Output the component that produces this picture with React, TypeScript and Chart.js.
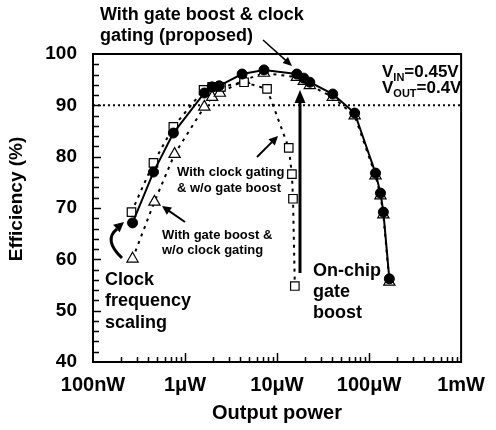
import React, { useEffect, useRef } from 'react';
import { Chart, registerables } from 'chart.js';

Chart.register(...registerables);

// Output power in µW, efficiency in %
const proposedPower = [0.269, 0.454, 0.747, 1.62, 1.97, 2.35, 4.17, 7.21, 16.4, 19.5, 22.7, 40.3, 69.7, 117.5, 133, 143, 166];
const proposedEff = [67.1, 77.0, 84.6, 92.4, 93.6, 93.8, 96.1, 96.9, 96.1, 95.3, 94.5, 92.2, 88.5, 76.8, 72.9, 69.2, 56.2];

const clockGatingPower = [0.262, 0.454, 0.747, 1.59, 1.97, 2.46, 4.38, 7.78, 13.4, 14.5, 14.9, 15.6];
const clockGatingEff = [69.2, 78.8, 85.8, 93.0, 93.6, 93.6, 94.5, 93.2, 81.7, 76.6, 71.8, 54.8];

const gateBoostPower = [0.269, 0.465, 0.77, 1.62, 1.97, 2.39, 4.38, 7.2, 16.4, 19.5, 22.7, 40.3, 69.7, 117.5, 133, 143, 166];
const gateBoostEff = [60.1, 71.2, 80.5, 89.7, 91.6, 92.4, 94.9, 96.3, 95.5, 94.7, 93.9, 91.6, 88.0, 76.3, 72.4, 68.7, 55.6];

const xTickValues = [0.1, 1, 10, 100, 1000];
const xTickLabels = ['100nW', '1μW', '10μW', '100μW', '1mW'];
const yMin = 40;
const yMax = 100;
const referenceEff = 90;

const FONT = '"Liberation Sans", Arial, Helvetica, sans-serif';

function pts(xs: number[], ys: number[]) {
  return xs.map((x, i) => ({ x, y: ys[i] }));
}

function arrowHead(ctx: CanvasRenderingContext2D, fx: number, fy: number, tx: number, ty: number, len: number, half: number) {
  const a = Math.atan2(ty - fy, tx - fx);
  ctx.beginPath();
  ctx.moveTo(tx, ty);
  ctx.lineTo(tx - len * Math.cos(a) + half * Math.sin(a), ty - len * Math.sin(a) - half * Math.cos(a));
  ctx.lineTo(tx - len * Math.cos(a) - half * Math.sin(a), ty - len * Math.sin(a) + half * Math.cos(a));
  ctx.closePath();
  ctx.fill();
}

function arrow(ctx: CanvasRenderingContext2D, fx: number, fy: number, tx: number, ty: number, w: number, len: number, half: number) {
  const a = Math.atan2(ty - fy, tx - fx);
  ctx.lineWidth = w;
  ctx.beginPath();
  ctx.moveTo(fx, fy);
  ctx.lineTo(tx - (len - 1) * Math.cos(a), ty - (len - 1) * Math.sin(a));
  ctx.stroke();
  arrowHead(ctx, fx, fy, tx, ty, len, half);
}

const framePlugin = {
  id: 'frameTicks',
  beforeDatasetsDraw(chart: any) {
    const { ctx, chartArea, scales } = chart;
    const { left, right, top, bottom } = chartArea;
    const x = scales.x;
    const y = scales.y;
    ctx.save();
    ctx.strokeStyle = '#000';
    // dotted 90% line
    ctx.lineWidth = 2;
    ctx.setLineDash([2, 3]);
    const py90 = y.getPixelForValue(referenceEff);
    ctx.beginPath();
    ctx.moveTo(left, py90);
    ctx.lineTo(right, py90);
    ctx.stroke();
    ctx.setLineDash([]);
    // y ticks
    ctx.lineWidth = 1.5;
    for (let v = yMin + 2; v < yMax; v += 2) {
      const py = Math.round(y.getPixelForValue(v)) + 0.5;
      const len = v % 10 === 0 ? 8 : 6;
      ctx.beginPath();
      ctx.moveTo(left, py);
      ctx.lineTo(left + len, py);
      ctx.stroke();
    }
    // x ticks
    for (let d = 0.1; d < 1000; d *= 10) {
      for (let m = 1; m <= 9; m++) {
        const v = d * m;
        if (m === 1 && d === 0.1) continue;
        const px = Math.round(x.getPixelForValue(v)) + 0.5;
        const len = m === 1 ? 9 : 5;
        ctx.beginPath();
        ctx.moveTo(px, bottom);
        ctx.lineTo(px, bottom - len);
        ctx.stroke();
      }
    }
    ctx.restore();
  },
  afterDraw(chart: any) {
    const { ctx, chartArea } = chart;
    const { left, right, top, bottom } = chartArea;
    ctx.save();
    ctx.strokeStyle = '#000';
    ctx.fillStyle = '#000';
    ctx.lineWidth = 2;
    ctx.strokeRect(left, top, right - left, bottom - top);

    // axis titles
    ctx.font = `bold 19px ${FONT}`;
    ctx.textAlign = 'center';
    ctx.textBaseline = 'middle';
    ctx.save();
    ctx.translate(17, 199);
    ctx.rotate(-Math.PI / 2);
    ctx.fillText('Efficiency (%)', 0, 0);
    ctx.restore();
    ctx.font = `bold 20px ${FONT}`;
    ctx.fillText('Output power', 277, 413);

    // annotations
    ctx.textAlign = 'left';
    ctx.textBaseline = 'alphabetic';
    ctx.font = `bold 18px ${FONT}`;
    ctx.fillText('With gate boost & clock', 100, 20);
    ctx.fillText('gating (proposed)', 100, 41);
    ctx.fillText('Clock', 105, 285);
    ctx.fillText('frequency', 105, 306);
    ctx.fillText('scaling', 105, 328);
    ctx.fillText('On-chip', 313, 276);
    ctx.fillText('gate', 313, 297);
    ctx.fillText('boost', 313, 318);

    ctx.font = `bold 13px ${FONT}`;
    ctx.fillText('With clock gating', 177, 176);
    ctx.fillText('& w/o gate boost', 177, 192);
    ctx.fillText('With gate boost &', 162, 239);
    ctx.fillText('w/o clock gating', 162, 254);

    // V_IN / V_OUT
    const sub = (x0: number, yb: number, subText: string, rest: string) => {
      ctx.font = `bold 17px ${FONT}`;
      ctx.fillText('V', x0, yb);
      let xx = x0 + ctx.measureText('V').width;
      ctx.font = `bold 11px ${FONT}`;
      ctx.fillText(subText, xx, yb + 4);
      xx += ctx.measureText(subText).width;
      ctx.font = `bold 17px ${FONT}`;
      ctx.fillText(rest, xx, yb);
    };
    sub(382, 77, 'IN', '=0.45V');
    sub(382, 93, 'OUT', '=0.4V');

    // arrows
    arrow(ctx, 263, 40, 292, 66, 1.5, 9, 4);
    arrow(ctx, 257, 157, 278, 136, 2, 9, 4.5);
    arrow(ctx, 185, 222, 162, 206, 2, 9, 4.5);
    arrow(ctx, 300, 273, 300, 90, 3, 13, 5.5);

    // curved arrow
    ctx.lineWidth = 3;
    ctx.beginPath();
    ctx.moveTo(122, 258);
    ctx.quadraticCurveTo(103, 240, 117, 229);
    ctx.stroke();
    arrowHead(ctx, 110, 234, 124, 222, 10, 5);

    ctx.restore();
  },
};

export default function App() {
  const ref = useRef<HTMLCanvasElement | null>(null);
  useEffect(() => {
    if (!ref.current) return;
    const chart = new Chart(ref.current, {
      type: 'scatter',
      data: {
        datasets: [
          {
            label: 'With gate boost & clock gating (proposed)',
            data: pts(proposedPower, proposedEff),
            showLine: true,
            borderColor: '#000',
            borderWidth: 2,
            backgroundColor: '#000',
            pointStyle: 'circle',
            pointRadius: 5,
            pointBorderWidth: 1,
            pointBorderColor: '#000',
            pointBackgroundColor: '#000',
            order: 0,
          },
          {
            label: 'With clock gating & w/o gate boost',
            data: pts(clockGatingPower, clockGatingEff),
            showLine: true,
            borderColor: '#000',
            borderWidth: 2,
            borderDash: [3, 5],
            pointStyle: 'rect',
            pointRadius: 6,
            pointBorderWidth: 1.2,
            pointBorderColor: '#000',
            pointBackgroundColor: '#fff',
            order: 1,
          },
          {
            label: 'With gate boost & w/o clock gating',
            data: pts(gateBoostPower, gateBoostEff),
            showLine: true,
            borderColor: '#000',
            borderWidth: 2,
            borderDash: [3, 5],
            pointStyle: 'triangle',
            pointRadius: 6.5,
            pointBorderWidth: 1.2,
            pointBorderColor: '#000',
            pointBackgroundColor: '#fff',
            order: 2,
          },
        ],
      },
      options: {
        responsive: false,
        animation: false,
        events: [],
        layout: { padding: { left: 0, top: 54, right: 33, bottom: 0 } },
        plugins: {
          legend: { display: false },
          tooltip: { enabled: false },
        },
        scales: {
          x: {
            type: 'logarithmic',
            min: 0.1,
            max: 1000,
            grid: { display: false, drawTicks: false },
            border: { display: false },
            afterBuildTicks: (scale: any) => {
              scale.ticks = xTickValues.map((v) => ({ value: v }));
            },
            afterFit: (scale: any) => {
              scale.height = 68;
            },
            ticks: {
              autoSkip: false,
              maxRotation: 0,
              padding: 11,
              color: '#000',
              font: { family: FONT, size: 20, weight: 'bold' },
              callback: (_v: any, i: number) => xTickLabels[i],
            },
          },
          y: {
            min: yMin,
            max: yMax,
            grid: { display: false, drawTicks: false },
            border: { display: false },
            afterFit: (scale: any) => {
              scale.width = 93;
            },
            ticks: {
              stepSize: 10,
              padding: 16,
              color: '#000',
              font: { family: FONT, size: 19, weight: 'bold' },
            },
          },
        },
      },
      plugins: [framePlugin],
    });
    return () => chart.destroy();
  }, []);
  return (
    <div style={{ position: 'absolute', left: 0, top: 0, width: 496, height: 430, background: '#fff' }}>
      <canvas ref={ref} width={496} height={430} style={{ width: 496, height: 430, display: 'block' }} />
    </div>
  );
}
